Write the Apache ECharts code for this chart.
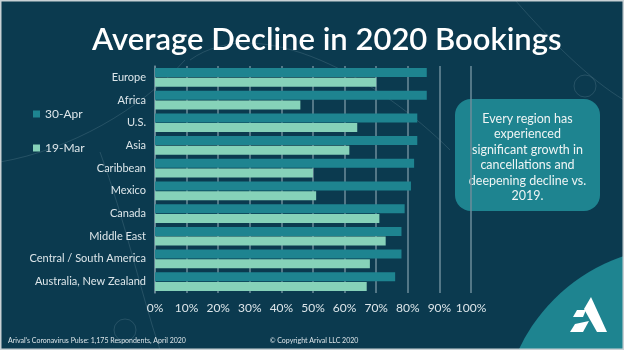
<!DOCTYPE html>
<html>
<head>
<meta charset="utf-8">
<script src="https://cdn.jsdelivr.net/npm/echarts@6/dist/echarts.min.js"></script>
<style>
  html, body { margin: 0; padding: 0; background: #0b3a4f; }
  #chart { width: 624px; height: 350px; }
</style>
</head>
<body>
<div id="chart"></div>
<script>
// regions, top to bottom
const regions = ['Europe', 'Africa', 'U.S.', 'Asia', 'Caribbean', 'Mexico', 'Canada',
  'Middle East', 'Central / South America', 'Australia, New Zealand']
// average decline in 2020 bookings (%)
const apr30 = [86, 86, 83, 83, 82, 81, 79, 78, 78, 76]
const mar19 = [70, 46, 64, 61.5, 50, 51, 71, 73, 68, 67]
const seriesNames = ['30-Apr', '19-Mar']
const calloutLines = ['Every region has', 'experienced', 'significant growth in',
  'cancellations and', 'deepening decline vs.', '2019.']

const DARK = '#1e8490'
const MINT = '#86d2b9'
const TEXT = '#dde6ea'
const GRID = '#6d8c9a'
const FONT = 'Lato'

const chart = echarts.init(document.getElementById('chart'))

const faint = { stroke: 'rgba(160,190,200,0.18)', lineWidth: 1, fill: null }

const options = {
  backgroundColor: '#0b3a4f',
  textStyle: { fontFamily: FONT },
  title: {
    text: 'Average Decline in 2020 Bookings',
    left: 87,
    top: 19,
    textStyle: { color: '#ffffff', fontSize: 31, fontWeight: 600, fontFamily: FONT }
  },
  legend: {
    orient: 'vertical',
    left: 28,
    top: 103,
    icon: 'rect',
    itemWidth: 7,
    itemHeight: 7,
    itemGap: 22,
    selectedMode: false,
    data: seriesNames,
    textStyle: { color: TEXT, fontSize: 12, fontFamily: FONT }
  },
  grid: {
    left: 155,
    right: 153,
    top: 66,
    bottom: 57
  },
  xAxis: {
    type: 'value',
    min: 0,
    max: 100,
    interval: 10,
    axisLine: { show: false },
    axisTick: { show: false },
    splitLine: { lineStyle: { color: GRID, width: 1.5 } },
    axisLabel: {
      color: TEXT,
      fontSize: 12,
      margin: 9,
      fontFamily: FONT,
      formatter: '{value}%'
    }
  },
  yAxis: {
    type: 'category',
    inverse: true,
    data: regions,
    axisLine: { show: true, lineStyle: { color: GRID, width: 1.5 } },
    axisTick: { show: false },
    axisLabel: { color: TEXT, fontSize: 11, margin: 9, fontFamily: FONT }
  },
  series: [
    {
      name: seriesNames[0],
      type: 'bar',
      barWidth: 9,
      barGap: '8%',
      itemStyle: { color: DARK },
      data: apr30
    },
    {
      name: seriesNames[1],
      type: 'bar',
      barWidth: 9,
      itemStyle: { color: MINT },
      data: mar19
    }
  ],
  graphic: [
    // faint map decorations
    { type: 'bezierCurve', silent: true, z: -1, shape: { x1: 0, y1: 162, x2: 185, y2: 60, cpx1: 70, cpy1: 150, cpx2: 140, cpy2: 110 }, style: faint },
    { type: 'bezierCurve', silent: true, z: -1, shape: { x1: 100, y1: 152, x2: 160, y2: 350, cpx1: 125, cpy1: 220, cpx2: 140, cpy2: 290 }, style: faint },
    { type: 'bezierCurve', silent: true, z: -1, shape: { x1: 515, y1: 0, x2: 624, y2: 100, cpx1: 550, cpy1: 40, cpx2: 590, cpy2: 80 }, style: faint },
    { type: 'bezierCurve', silent: true, z: -1, shape: { x1: 190, y1: 60, x2: 450, y2: 150, cpx1: 260, cpy1: 10, cpx2: 380, cpy2: 80 }, style: faint },
    { type: 'circle', silent: true, z: -1, shape: { cx: 125, cy: 330, r: 11 }, style: faint },
    { type: 'circle', silent: true, z: -1, shape: { cx: 585, cy: 86, r: 11 }, style: faint },
    // callout
    {
      type: 'rect',
      shape: { x: 455, y: 99, width: 145, height: 112, r: 16 },
      style: { fill: DARK }
    },
    {
      type: 'text',
      x: 527.5,
      y: 111,
      style: {
        text: calloutLines.join('\n'),
        fill: '#eef4f4',
        font: '12.5px Lato',
        lineHeight: 15.5,
        align: 'center',
        verticalAlign: 'top'
      }
    },
    // bottom right logo area
    {
      type: 'circle',
      shape: { cx: 680, cy: 425, r: 178 },
      style: { fill: DARK }
    },
    {
      type: 'polygon',
      shape: { points: [[591, 297], [607, 332], [597, 332], [584, 309]] },
      style: { fill: '#ffffff' }
    },
    {
      type: 'polygon',
      shape: { points: [[577, 310], [586, 310], [583, 317], [573, 317]] },
      style: { fill: '#ffffff' }
    },
    {
      type: 'polygon',
      shape: { points: [[575, 324], [589, 321], [583, 332], [570, 332]] },
      style: { fill: '#ffffff' }
    },
    // footer
    {
      type: 'text',
      x: 8,
      y: 341,
      style: {
        text: "Arival's Coronavirus Pulse: 1,175 Respondents, April 2020",
        fill: TEXT,
        font: '7px Lato',
        verticalAlign: 'middle'
      }
    },
    {
      type: 'text',
      x: 314,
      y: 341,
      style: {
        text: '© Copyright Arival LLC 2020',
        fill: TEXT,
        font: '7px Lato',
        align: 'center',
        verticalAlign: 'middle'
      }
    },
    // frame
    {
      type: 'rect',
      silent: true,
      shape: { x: 0.75, y: 0.75, width: 622.5, height: 348.5 },
      style: { fill: null, stroke: '#c9d1d5', lineWidth: 1.5 }
    }
  ]
}

chart.setOption(options)
</script>
</body>
</html>
